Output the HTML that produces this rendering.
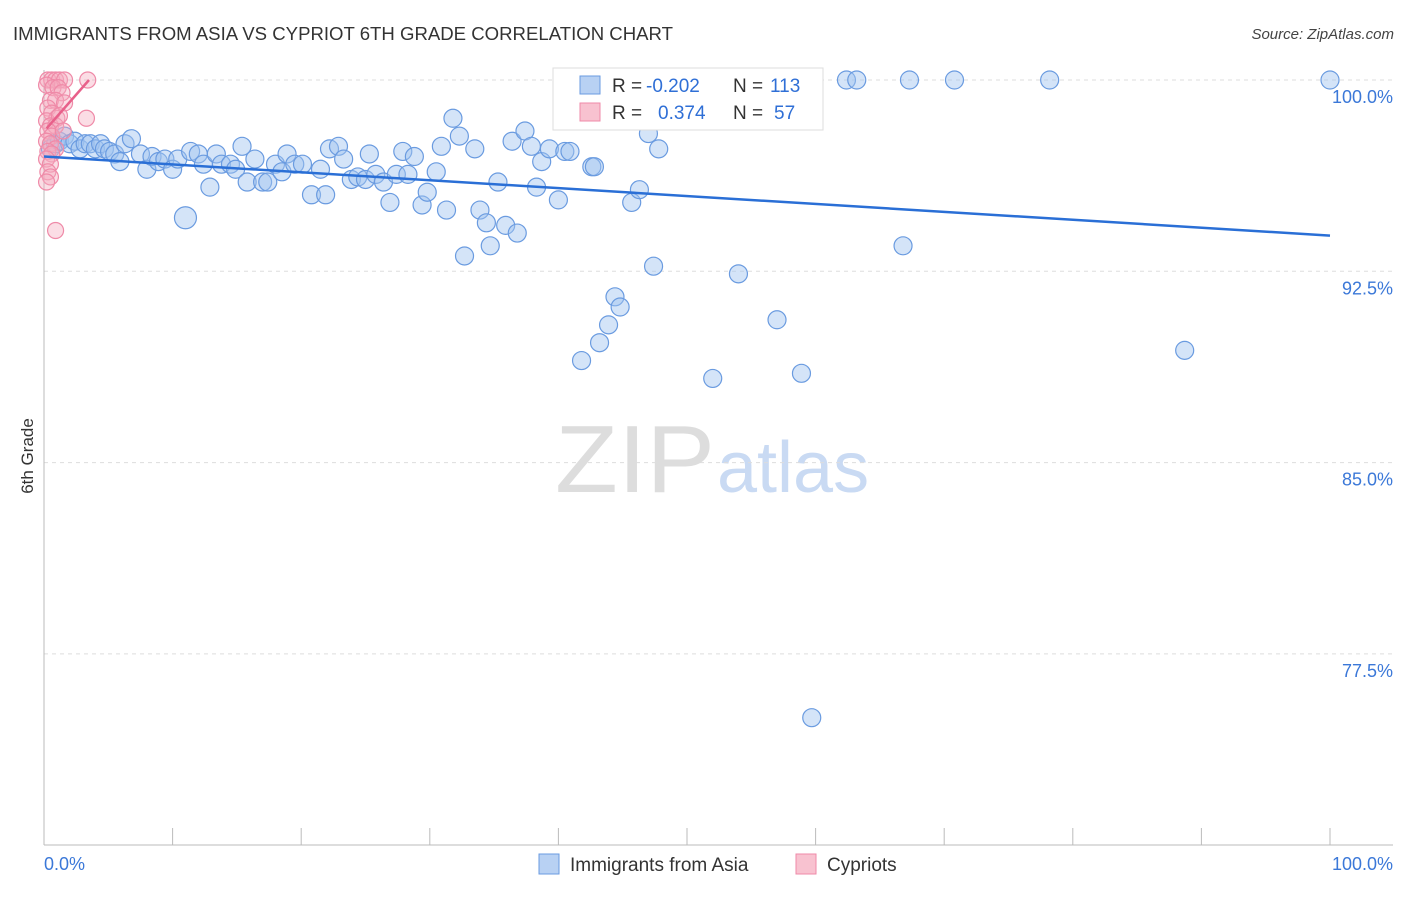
<!DOCTYPE html>
<html><head><meta charset="utf-8"><style>
body{margin:0;background:#fff;font-family:"Liberation Sans",sans-serif;}
svg text{font-family:"Liberation Sans",sans-serif;}
</style></head><body>
<svg id="chart" width="1406" height="892" xmlns="http://www.w3.org/2000/svg">
<text x="13" y="40" font-size="18" fill="#333" textLength="660" lengthAdjust="spacingAndGlyphs">IMMIGRANTS FROM ASIA VS CYPRIOT 6TH GRADE CORRELATION CHART</text>
<text x="1394" y="39" font-size="15" fill="#444" text-anchor="end" font-style="italic">Source: ZipAtlas.com</text>
<text transform="translate(33,456) rotate(-90)" font-size="17" fill="#333" text-anchor="middle">6th Grade</text>
<g>
<text x="555" y="492" font-size="96" fill="#ddd" font-family="Liberation Serif" textLength="160" lengthAdjust="spacingAndGlyphs">ZIP</text>
<text x="717" y="492" font-size="72" fill="#c9daf3">atlas</text>
</g>
<g id="grid"></g><g id="axes"></g><g id="pts"></g><g id="trend"></g>
<g>
<rect x="553" y="68" width="270" height="62" fill="#fff" stroke="#ddd"/>
<rect x="580" y="76" width="20" height="18" fill="#b8d1f3" stroke="#6a9be0"/>
<rect x="580" y="103" width="20" height="18" fill="#f8c2d0" stroke="#ef8aa8"/>
<text x="612" y="92" font-size="19" fill="#333">R =</text>
<text x="646" y="92" font-size="19" fill="#2f6fd6">-0.202</text>
<text x="733" y="92" font-size="19" fill="#333">N =</text>
<text x="770" y="92" font-size="19" fill="#2f6fd6">113</text>
<text x="612" y="119" font-size="19" fill="#333">R =</text>
<text x="658" y="119" font-size="19" fill="#2f6fd6">0.374</text>
<text x="733" y="119" font-size="19" fill="#333">N =</text>
<text x="774" y="119" font-size="19" fill="#2f6fd6">57</text>
</g>
<g>
<rect x="539" y="854" width="20" height="20" fill="#b8d1f3" stroke="#6a9be0"/>
<text x="570" y="871" font-size="19" fill="#333">Immigrants from Asia</text>
<rect x="796" y="854" width="20" height="20" fill="#f8c2d0" stroke="#ef8aa8"/>
<text x="827" y="871" font-size="19" fill="#333">Cypriots</text>
</g>
</svg>
<script>
const yTicks=[100,92.5,85,77.5];
const yTickLabels=["100.0%","92.5%","85.0%","77.5%"];
const xTickLabels=["0.0%","100.0%"];
const blueX=[0.5,0.9,1.2,1.6,2.0,2.4,2.8,3.2,3.6,4.0,4.4,4.7,5.1,5.5,5.9,6.3,6.8,7.5,8.0,8.4,8.9,9.4,10.0,10.4,11.0,11.4,12.0,12.4,12.9,13.4,13.8,14.5,14.9,15.4,15.8,16.4,17.0,17.4,18.0,18.5,18.9,19.5,20.1,20.8,21.5,21.9,22.2,22.9,23.3,23.9,24.4,25.0,25.3,25.8,26.4,26.9,27.4,27.9,28.3,28.8,29.4,29.8,30.5,30.9,31.3,31.8,32.3,32.7,33.5,33.9,34.4,34.7,35.3,35.9,36.4,36.8,37.4,37.9,38.3,38.7,39.3,40.0,40.5,40.9,41.8,42.6,42.8,43.2,43.9,44.4,44.8,45.2,45.7,46.3,47.0,47.4,47.8,50.4,52.0,52.9,53.3,54.0,57.0,58.9,59.7,62.4,63.2,66.8,67.3,70.8,78.2,88.7,100,45.2,50.2];
const blueY=[97.3,97.5,97.6,97.8,97.5,97.6,97.3,97.5,97.5,97.3,97.5,97.3,97.2,97.1,96.8,97.5,97.7,97.1,96.5,97.0,96.8,96.9,96.5,96.9,94.6,97.2,97.1,96.7,95.8,97.1,96.7,96.7,96.5,97.4,96.0,96.9,96.0,96.0,96.7,96.4,97.1,96.7,96.7,95.5,96.5,95.5,97.3,97.4,96.9,96.1,96.2,96.1,97.1,96.3,96.0,95.2,96.3,97.2,96.3,97.0,95.1,95.6,96.4,97.4,94.9,98.5,97.8,93.1,97.3,94.9,94.4,93.5,96.0,94.3,97.6,94.0,98.0,97.4,95.8,96.8,97.3,95.3,97.2,97.2,89.0,96.6,96.6,89.7,90.4,91.5,91.1,100,95.2,95.7,97.9,92.7,97.3,98.7,88.3,100,100,92.4,90.6,88.5,75.0,100,100,93.5,100,100,100,89.4,100,99.1,98.9];
const pinkX=[0.3,0.6,0.9,1.2,1.6,0.2,0.7,1.1,1.4,0.5,0.9,1.6,0.3,0.6,1.0,0.2,0.5,0.9,0.3,0.6,0.2,0.5,0.9,0.3,0.6,0.2,0.5,0.3,0.5,0.2,0.9,3.4,3.3,1.2,1.5];
const pinkY=[100,100,100,100,100,99.8,99.7,99.7,99.5,99.2,99.2,99.1,98.9,98.7,98.5,98.4,98.2,98.2,98.0,97.8,97.6,97.5,97.3,97.2,97.1,96.9,96.7,96.4,96.2,96.0,94.1,100,98.5,98.6,98.0];
const blueTrendX=[0,100], blueTrendY=[97.0,93.9];
const pinkTrendX=[0.2,3.5], pinkTrendY=[98.1,100];
const X0=44,X1=1330,Y100=80,PX_PER_PCT=191.3/7.5;
const sx=v=>X0+(X1-X0)*v/100;
const sy=v=>Y100+(100-v)*PX_PER_PCT;
const NS="http://www.w3.org/2000/svg";
function mk(tag,attrs,parent){const e=document.createElementNS(NS,tag);for(const k in attrs)e.setAttribute(k,attrs[k]);document.getElementById(parent).appendChild(e);return e;}
yTicks.forEach((t,i)=>{
  const l=mk('line',{x1:44,x2:1393,y1:sy(t),y2:sy(t),stroke:'#ddd','stroke-dasharray':'4,4'},'grid');
  
  
  const tx=mk('text',{x:1393,y:sy(t)+23,'font-size':18,fill:'#3b78d8','text-anchor':'end'},'axes');
  tx.textContent=yTickLabels[i];
  
  
});
const ax=mk('line',{x1:44,x2:1393,y1:845,y2:845,stroke:'#bbb'},'axes');


const ay=mk('line',{x1:44,x2:44,y1:70,y2:845,stroke:'#bbb'},'axes');


for(let i=0;i<=10;i++){
  const t=mk('line',{x1:sx(i*10),x2:sx(i*10),y1:828,y2:845,stroke:'#bbb'},'axes');
  
  
}
[[0,'start',44],[100,'end',1393]].forEach((d,i)=>{
  const t=mk('text',{x:d[2],y:870,'font-size':18,fill:'#3b78d8','text-anchor':d[1]},'axes');
  t.textContent=xTickLabels[i];
  
  
});
blueX.forEach((v,i)=>{
  const c=mk('circle',{cx:sx(v),cy:sy(blueY[i]),r:i==24?11:9,fill:'rgba(160,195,240,0.45)',stroke:'#6a9be0','stroke-width':1.2},'pts');
  
  
});
pinkX.forEach((v,i)=>{
  const c=mk('circle',{cx:sx(v),cy:sy(pinkY[i]),r:8,fill:'rgba(245,170,190,0.4)',stroke:'#ef8aa8','stroke-width':1.2},'pts');
  
  
});
const bt=mk('line',{x1:sx(blueTrendX[0]),y1:sy(blueTrendY[0]),x2:sx(blueTrendX[1]),y2:sy(blueTrendY[1]),stroke:'#2a6fd6','stroke-width':2.5},'trend');


const pt=mk('line',{x1:sx(pinkTrendX[0]),y1:sy(pinkTrendY[0]),x2:sx(pinkTrendX[1]),y2:sy(pinkTrendY[1]),stroke:'#e8608a','stroke-width':2.5},'trend');


</script>
</body></html>
